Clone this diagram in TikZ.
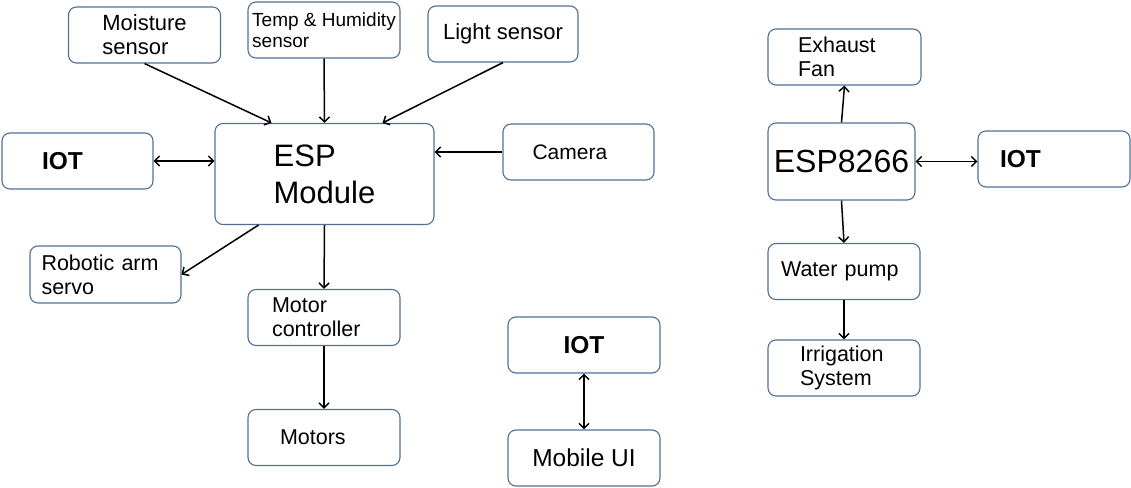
\documentclass[tikz,border=0pt]{standalone}
\usepackage{fontspec}
\setmainfont{Liberation Sans}
\usepackage{tikz}
\usetikzlibrary{arrows.meta,positioning}

\definecolor{boxline}{RGB}{80,112,150}

\tikzset{
    block/.style={draw=boxline, line width=1.1pt, rounded corners=8pt,
                  minimum width=152pt, minimum height=56pt, inner sep=0pt,
                  align=left, font=\fontsize{21.5}{24}\selectfont},
    iot/.style={block, font=\fontsize{24.5}{28}\selectfont\bfseries}
}

\begin{document}
\begin{tikzpicture}[->,
            >={Straight Barb[length=5pt,width=10pt]},
            x=1pt, y=-1pt,
            node distance=120pt,
            line width=1.5pt]

        \useasboundingbox (0,0) rectangle (1131,487);

        % sensors and the ESP module
        \node[block, font=\fontsize{22}{24}\selectfont] (moist) at (144.5,35) {Moisture\\sensor};
        \node[block, font=\fontsize{19}{21}\selectfont] (temp) at (324,30) {Temp \& Humidity\\sensor};
        \node[block, minimum width=150pt,
              font=\fontsize{22}{24}\selectfont] (light) at (503,34) {Light sensor};
        \node[iot, minimum width=151pt, text width=71pt] (iotl) at (77.5,161) {IOT};
        \node[block, minimum width=219pt, minimum height=101pt,
              font=\fontsize{31}{37}\selectfont] (esp) at (324.5,174) {ESP\\Module};
        \node[block, minimum width=151pt,
              font=\fontsize{21}{24}\selectfont, text width=92pt] (cam) at (578.5,152) {Camera};
        \node[block, minimum width=151pt, minimum height=57pt,
              text width=128pt] (robot) at (105.5,274.5) {Robotic arm\\servo};
        \node[block, text width=104pt]        (motorctl) at (324,317.5) {Motor\\controller};
        \node[block, text width=88pt]         (motors)   [below of=motorctl] {Motors};

        % mobile side
        \node[iot]                            (iotm)     at (584,345)   {IOT};
        \node[block, font=\fontsize{24.5}{28}\selectfont,
              node distance=113pt]            (mobile)   [below of=iotm] {Mobile UI};

        % greenhouse side
        \node[block, minimum width=153pt, text width=93pt] (exhaust) at (844.5,57) {Exhaust\\Fan};
        \node[block, minimum width=147pt, minimum height=77pt,
              font=\fontsize{32}{38}\selectfont] (esp8266) at (841.5,161.5) {ESP8266};
        \node[iot, text width=108pt]          (iotr)     at (1054,159)  {IOT};
        \node[block, text width=126pt]        (pump)     at (844,271.5) {Water pump};
        \node[block, text width=88pt,
              node distance=96.5pt]           (irrig)    [below of=pump] {Irrigation\\System};

        \path (moist.south) edge ([xshift=-53pt]esp.north)
              (temp.south)  edge (esp.north)
              (light.south) edge ([xshift=58pt]esp.north)
              (iotl.east)   edge [<->] (esp.west |- iotl.east)
              (cam.west)    edge (esp.east |- cam.west)
              ([xshift=-66pt]esp.south) edge (robot.east)
              (esp.south)   edge (motorctl.north)
              (motorctl)    edge (motors)
              (iotm.south)  edge [<->] (mobile.north)
              (esp8266.north) edge (exhaust.south)
              (esp8266.east)  edge [<->] (iotr.west |- esp8266.east)
              (esp8266.south) edge (pump.north)
              (pump)        edge (irrig);

    \end{tikzpicture}
\end{document}
